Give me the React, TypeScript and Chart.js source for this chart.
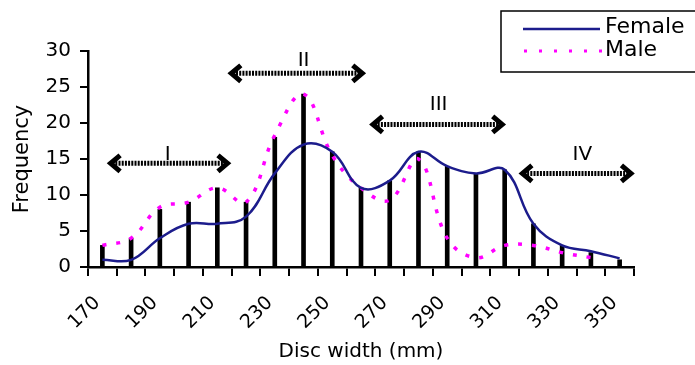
import { useEffect, useRef } from 'react';
import { Chart, registerables } from 'chart.js';

Chart.register(...registerables);

const categories = ['170', '180', '190', '200', '210', '220', '230', '240', '250', '260', '270', '280', '290', '300', '310', '320', '330', '340', '350'];
const barValues = [3, 4, 8, 9, 11, 9, 18, 24, 16, 11, 12, 16, 14, 13, 13.5, 6, 3, 2, 1];
const femaleValues = [1, 1, 4, 6, 6, 7, 13, 17, 16, 11, 12, 16, 14, 13, 13.5, 6, 3, 2.2, 1.2];
const maleValues = [3, 4, 8.3, 9, 11, 9, 18.3, 24, 15.5, 11, 9.3, 15, 4, 1.3, 3, 3, 2, 1.3, null];
const yTicks = [0, 5, 10, 15, 20, 25, 30];

// period annotations (category index units / frequency units)
const rangeNames = ['I', 'II', 'III', 'IV'];
const rangeFrom = [0.2, 4.4, 9.33, 14.53];
const rangeTo = [4.44, 9.13, 14.0, 18.48];
const rangeLevel = [14.4, 26.9, 19.8, 13.0];
const rangeNameX = [2.27, 7.0, 11.7, 16.7];
const rangeNameLevel = [14.9, 27.9, 21.8, 14.8];

const legendNames = ['Female', 'Male'];

const FONT = 'DejaVu Sans';
const NAVY = '#1c1c8c';
const MAGENTA = '#ff00ff';

const overlayPlugin = {
  id: 'overlay',
  afterDatasetsDraw(chart: any) {
    const ctx = chart.ctx as CanvasRenderingContext2D;
    const xs = chart.scales.x;
    const ys = chart.scales.y;
    ctx.save();
    for (let i = 0; i < rangeNames.length; i++) {
      const x0 = xs.getPixelForValue(rangeFrom[i]);
      const x1 = xs.getPixelForValue(rangeTo[i]);
      const y = ys.getPixelForValue(rangeLevel[i]);
      ctx.strokeStyle = '#000';
      ctx.lineWidth = 5;
      ctx.setLineDash([2, 1.2]);
      ctx.beginPath();
      ctx.moveTo(x0 + 4, y);
      ctx.lineTo(x1 - 4, y);
      ctx.stroke();
      ctx.setLineDash([]);
      ctx.lineWidth = 5;
      ctx.lineJoin = 'miter';
      ctx.beginPath();
      ctx.moveTo(x0 + 12, y - 8);
      ctx.lineTo(x0 + 2.5, y);
      ctx.lineTo(x0 + 12, y + 8);
      ctx.stroke();
      ctx.beginPath();
      ctx.moveTo(x1 - 12, y - 8);
      ctx.lineTo(x1 - 2.5, y);
      ctx.lineTo(x1 - 12, y + 8);
      ctx.stroke();
      ctx.fillStyle = '#000';
      ctx.font = `20px "${FONT}"`;
      ctx.textAlign = 'center';
      ctx.textBaseline = 'alphabetic';
      ctx.fillText(rangeNames[i], xs.getPixelForValue(rangeNameX[i]), ys.getPixelForValue(rangeNameLevel[i]));
    }
    ctx.restore();
  },
  afterDraw(chart: any) {
    const ctx = chart.ctx as CanvasRenderingContext2D;
    ctx.save();
    ctx.fillStyle = '#fff';
    ctx.fillRect(501, 11, 240, 61);
    ctx.strokeStyle = '#000';
    ctx.lineWidth = 1.5;
    ctx.strokeRect(501, 11, 240, 61);
    ctx.strokeStyle = NAVY;
    ctx.lineWidth = 2.5;
    ctx.beginPath();
    ctx.moveTo(523, 29);
    ctx.lineTo(600, 29);
    ctx.stroke();
    ctx.strokeStyle = MAGENTA;
    ctx.lineWidth = 3;
    ctx.setLineDash([3, 12]);
    ctx.beginPath();
    ctx.moveTo(524, 51);
    ctx.lineTo(602, 51);
    ctx.stroke();
    ctx.setLineDash([]);
    ctx.fillStyle = '#000';
    ctx.font = `22px "${FONT}"`;
    ctx.textAlign = 'left';
    ctx.textBaseline = 'middle';
    ctx.fillText(legendNames[0], 605, 27);
    ctx.fillText(legendNames[1], 605, 50);
    ctx.restore();
  },
};

export default function App() {
  const ref = useRef<HTMLCanvasElement>(null);
  useEffect(() => {
    if (!ref.current) return;
    const chart = new Chart(ref.current, {
      type: 'bar',
      data: {
        labels: categories,
        datasets: [
          {
            type: 'line',
            label: legendNames[0],
            data: femaleValues,
            borderColor: NAVY,
            borderWidth: 2.5,
            pointRadius: 0,
            tension: 0.4,
            fill: false,
            order: 1,
          } as any,
          {
            type: 'line',
            label: legendNames[1],
            data: maleValues,
            borderColor: MAGENTA,
            borderWidth: 3.5,
            borderDash: [4, 10],
            pointRadius: 0,
            tension: 0.4,
            fill: false,
            order: 2,
          } as any,
          {
            type: 'bar',
            label: 'bars',
            data: barValues,
            backgroundColor: '#000',
            barThickness: 4,
            order: 3,
          },
        ],
      },
      options: {
        responsive: false,
        animation: false,
        devicePixelRatio: 1,
        layout: { padding: { top: 51, right: 61, left: 0, bottom: 0 } },
        plugins: { legend: { display: false }, tooltip: { enabled: false } },
        scales: {
          x: {
            offset: true,
            grid: { offset: true, drawOnChartArea: false, drawTicks: true, tickLength: 9, color: '#000', lineWidth: 2 },
            border: { color: '#000', width: 2.5 },
            ticks: {
              autoSkip: false,
              minRotation: 45,
              maxRotation: 45,
              padding: 16,
              labelOffset: -5,
              color: '#000',
              font: { family: FONT, size: 19 },
              callback: (_v: any, i: number) => (i % 2 === 0 ? categories[i] : ''),
            },
            title: { display: true, text: 'Disc width (mm)', color: '#000', font: { family: FONT, size: 20 }, padding: { top: 0, bottom: 1 } },
            afterFit: (s: any) => { s.height = 98; },
          },
          y: {
            min: 0,
            max: 30,
            afterBuildTicks: (s: any) => { s.ticks = yTicks.map((v) => ({ value: v })); },
            grid: { drawOnChartArea: false, drawTicks: true, tickLength: 8, color: '#000', lineWidth: 2 },
            border: { color: '#000', width: 2.5 },
            ticks: { padding: 9, color: '#000', font: { family: FONT, size: 20 } },
            title: { display: true, text: 'Frequency', color: '#000', font: { family: FONT, size: 21 }, padding: { top: 10, bottom: 0 } },
            afterFit: (s: any) => { s.width = 88; },
          },
        },
      },
      plugins: [overlayPlugin],
    });
    return () => chart.destroy();
  }, []);
  return (
    <div style={{ position: 'fixed', left: 0, top: 0, width: 695, height: 365, background: '#fff' }}>
      <canvas ref={ref} width={695} height={365} />
    </div>
  );
}
